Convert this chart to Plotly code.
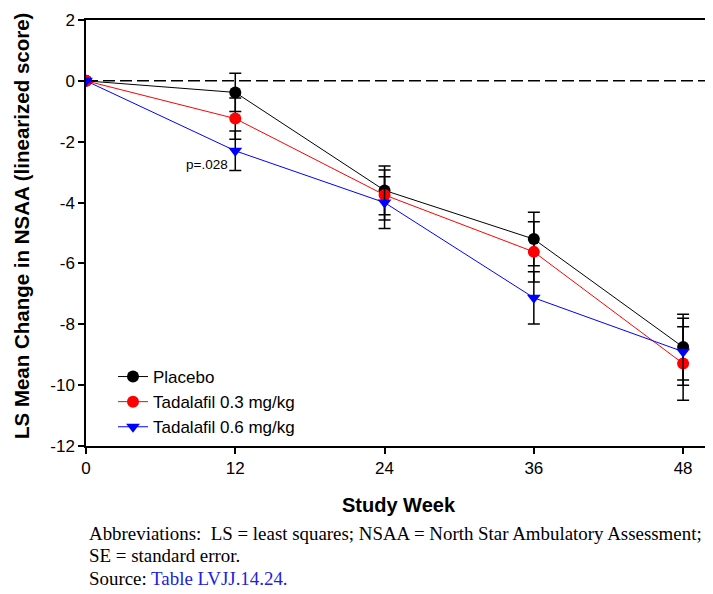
import plotly.graph_objects as go

weeks = [0, 12, 24, 36, 48]
placebo = [0, -0.38, -3.6, -5.2, -8.75]
placebo_se = [0, 0.63, 0.8, 0.88, 1.08]
tad03 = [0, -1.24, -3.75, -5.62, -9.29]
tad03_se = [0, 0.68, 0.82, 0.99, 1.21]
tad06 = [0, -2.3, -4.0, -7.13, -8.9]
tad06_se = [0, 0.65, 0.85, 0.86, 1.1]

x_ticks = [0, 12, 24, 36, 48]
y_ticks = [2, 0, -2, -4, -6, -8, -10, -12]

# the page body has an 8px margin, so the figure is shrunk and shifted
OFF = 8
W, H = 713 - OFF, 594 - OFF
L, R, T, B = 86 - OFF, 5, 20 - OFF, 148
ph = H - T - B
pw = W - L - R

def py(pix):  # pixel in reference image -> paper y
    return (H - B - (pix - OFF)) / ph

def px(pix):  # pixel in reference image -> paper x
    return ((pix - OFF) - L) / pw

fig = go.Figure()
series = [
    ("Placebo", placebo, placebo_se, "black", "circle"),
    ("Tadalafil 0.3 mg/kg", tad03, tad03_se, "red", "circle"),
    ("Tadalafil 0.6 mg/kg", tad06, tad06_se, "blue", "triangle-down"),
]
for name, vals, se, col, sym in series:
    fig.add_trace(go.Scatter(
        x=weeks, y=vals, name=name, mode="lines+markers",
        line=dict(color=col, width=1),
        marker=dict(color=col, size=12, symbol=sym),
        error_y=dict(type="data", array=se, visible=True, color="black",
                     thickness=1.5, width=6),
    ))

fig.add_shape(type="line", xref="paper", yref="y", x0=0, x1=1, y0=0, y1=0,
              line=dict(color="black", width=1.5, dash="12px,5px"), layer="below")

fig.add_annotation(x=12, y=tad06[1], xref="x", yref="y", text="p=.028",
                   showarrow=False, xanchor="right", yanchor="middle",
                   xshift=-5, yshift=-14,
                   font=dict(family="Liberation Sans, Arial", size=13.5, color="black"))

foot_font = dict(family="Liberation Serif, Times New Roman", size=18.9, color="black")
fig.add_annotation(x=px(87), y=py(533), xref="paper", yref="paper",
                   text="Abbreviations:  LS = least squares; NSAA = North Star Ambulatory Assessment;",
                   showarrow=False, xanchor="left", yanchor="middle", font=foot_font)
fig.add_annotation(x=px(87), y=py(555), xref="paper", yref="paper",
                   text="SE = standard error.",
                   showarrow=False, xanchor="left", yanchor="middle", font=foot_font)
fig.add_annotation(x=px(87), y=py(578), xref="paper", yref="paper",
                   text="Source: <span style='color:#2020e0'>Table LVJJ.14.24.</span>",
                   showarrow=False, xanchor="left", yanchor="middle", font=foot_font)
fig.add_annotation(x=px(399), y=py(505), xref="paper", yref="paper",
                   text="<b>Study Week</b>",
                   showarrow=False, xanchor="center", yanchor="middle",
                   font=dict(family="Liberation Sans, Arial", size=20, color="black"))
fig.add_annotation(x=px(21), y=py(226), xref="paper", yref="paper",
                   text="<b>LS Mean Change in NSAA (linearized score)</b>",
                   showarrow=False, xanchor="center", yanchor="middle", textangle=-90,
                   font=dict(family="Liberation Sans, Arial", size=20.5, color="black"))

fig.update_layout(
    width=W, height=H,
    margin=dict(l=L, r=R, t=T, b=B, autoexpand=False),
    plot_bgcolor="white", paper_bgcolor="white",
    font=dict(family="Liberation Sans, Arial", size=17, color="black"),
    showlegend=True,
    legend=dict(x=px(113), y=py(359), xanchor="left", yanchor="top",
                bgcolor="rgba(0,0,0,0)", font=dict(size=17), tracegroupgap=0),
    xaxis=dict(range=[0, 50], tickvals=x_ticks, ticktext=[str(v) for v in x_ticks],
               showgrid=False, zeroline=False, showline=True, linecolor="black",
               linewidth=1.5, mirror=True, ticks="outside", ticklen=6,
               tickcolor="black", tickwidth=1.5, automargin=False),
    yaxis=dict(range=[-12, 2], tickvals=y_ticks, ticktext=[str(v) for v in y_ticks],
               showgrid=False, zeroline=False, showline=True, linecolor="black",
               linewidth=1.5, mirror=True, ticks="outside", ticklen=6,
               tickcolor="black", tickwidth=1.5, automargin=False),
)

fig.write_html("out.html")
